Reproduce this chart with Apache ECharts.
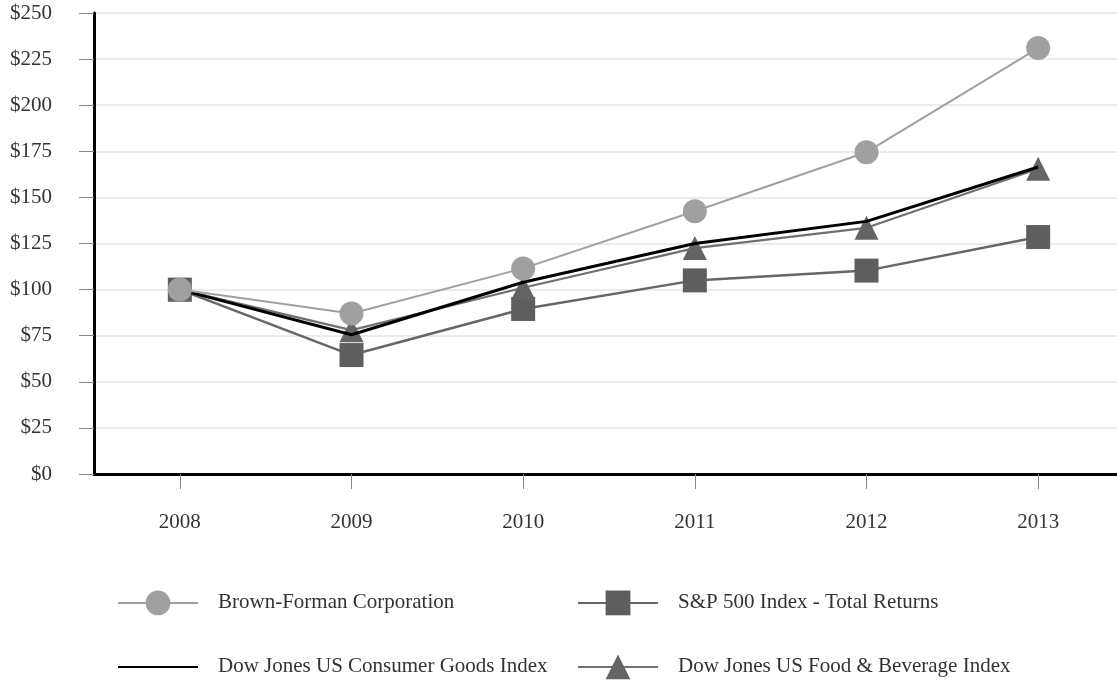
<!DOCTYPE html>
<html>
<head>
<meta charset="utf-8">
<script src="https://cdn.jsdelivr.net/npm/echarts@6/dist/echarts.min.js"></script>
<style>html,body{margin:0;padding:0;background:#fff}#c{width:1117px;height:680px}</style>
</head>
<body>
<div id="c"></div>
<script>
var years = ['2008', '2009', '2010', '2011', '2012', '2013'];
var yTicks = [0, 25, 50, 75, 100, 125, 150, 175, 200, 225, 250];
var brownForman = [100, 87, 111.5, 142.5, 174.5, 231];
var sp500 = [100, 64.5, 89.5, 105, 110.3, 128.5];
var consumerGoods = [100, 75.5, 104, 125, 137, 166.5];
var foodBeverage = [100, 78, 101, 122.5, 133.5, 165.5];

var FONT = '"Liberation Serif", "Times New Roman", serif';
var FS = 21;
var chart = echarts.init(document.getElementById('c'));

function legend(item, left, top) {
  return {
    data: [item], left: left, top: top, itemWidth: 80, itemHeight: 31, padding: 0,
    selectedMode: false,
    textStyle: {fontFamily: FONT, fontSize: FS, color: '#333', padding: [0, 0, 0, 15]}
  };
}

chart.setOption({
  backgroundColor: '#fff',
  animation: false,
  grid: {left: 94, top: 13, bottom: 206, right: -7, containLabel: false, outerBoundsMode: 'none'},
  legend: [
    legend('Brown-Forman Corporation', 117, 590.5),
    legend('S&P 500 Index - Total Returns', 577, 590.5),
    legend({name: 'Dow Jones US Consumer Goods Index', itemStyle: {opacity: 0}}, 117, 654.5),
    legend('Dow Jones US Food & Beverage Index', 577, 654.5)
  ],
  xAxis: {
    type: 'category', data: years, boundaryGap: true,
    axisLine: {lineStyle: {color: '#000', width: 3}},
    axisTick: {show: true, alignWithLabel: true, length: 15, lineStyle: {color: '#888', width: 1}},
    axisLabel: {margin: 38, fontFamily: FONT, fontSize: FS, color: '#333'},
    splitLine: {show: false}
  },
  yAxis: {
    type: 'value', min: 0, max: 250, interval: 25,
    axisLine: {show: true, lineStyle: {color: '#000', width: 3}},
    axisTick: {show: true, length: 15, lineStyle: {color: '#888', width: 1}},
    axisLabel: {margin: 42, fontFamily: FONT, fontSize: FS, color: '#333',
      formatter: function (v) { return yTicks.indexOf(v) >= 0 ? '$' + v : ''; }},
    splitLine: {lineStyle: {color: '#e6e6e6', width: 1.5}}
  },
  series: [
    {name: 'S&P 500 Index - Total Returns', type: 'line', data: sp500, symbol: 'rect', symbolSize: 24,
      lineStyle: {color: '#666', width: 2.5}, itemStyle: {color: '#5e5e5e'}, z: 2},
    {name: 'Dow Jones US Food & Beverage Index', type: 'line', data: foodBeverage, symbol: 'triangle', symbolSize: 24,
      lineStyle: {color: '#707070', width: 2.2}, itemStyle: {color: '#646464'}, z: 3},
    {name: 'Dow Jones US Consumer Goods Index', type: 'line', data: consumerGoods, symbol: 'none',
      lineStyle: {color: '#000', width: 3}, itemStyle: {color: '#000'}, z: 4},
    {name: 'Brown-Forman Corporation', type: 'line', data: brownForman, symbol: 'circle', symbolSize: 24,
      lineStyle: {color: '#a0a0a0', width: 2}, itemStyle: {color: '#a0a0a0'}, z: 5}
  ]
});
</script>
</body>
</html>
